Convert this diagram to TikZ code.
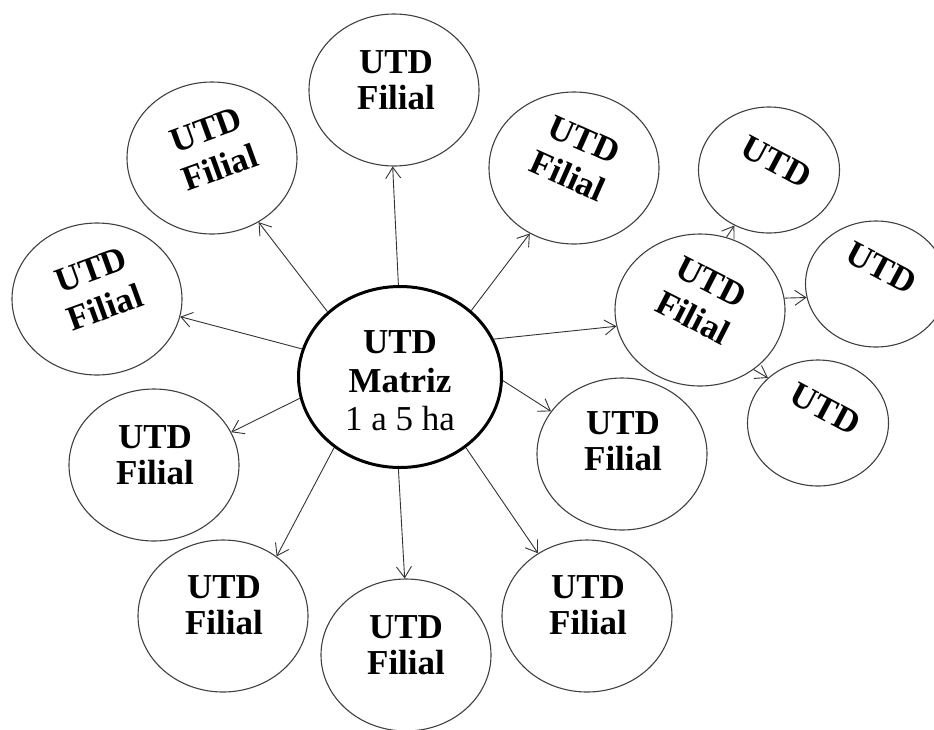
\documentclass[tikz,border=0pt]{standalone}
\usepackage{fontspec}
\setmainfont{Liberation Serif}
\usetikzlibrary{shapes}
\usetikzlibrary{arrows.meta}

\begin{document}
\begin{tikzpicture}[
    x=1pt, y=-1pt,
    font=\fontsize{35}{36}\selectfont\bfseries
]
\tikzset{
    filial/.style = {ellipse, draw=black!75, line width=1.1pt, minimum width=170pt, minimum height=152pt, inner sep=0pt},
    utd/.style = {ellipse, draw=black!75, line width=1.1pt, minimum width=141pt, minimum height=126pt, inner sep=0pt},
    matriz/.style = {ellipse, draw=black, line width=3pt, minimum width=203pt, minimum height=181pt, inner sep=0pt},
    txt/.style = {align=center, inner sep=0pt},
    txtr/.style = {align=center, inner sep=0pt, font=\fontsize{35}{40}\selectfont\bfseries},
    edger/.style = {-{Straight Barb[length=11pt,width=15pt]}, line width=0.9pt, black!80}
}
\useasboundingbox (0,0) rectangle (934,729);
% matriz
\node[matriz] at (400,377) (m) {};
\node[txt, font=\fontsize{35}{38.5}\selectfont\bfseries] at (400,381) (mt) {UTD\\Matriz\\{\mdseries 1 a 5 ha}};
% filiais
\node[filial] at (394,90) (f1) {};
\node[filial] at (212,158) (f2) {};
\node[filial] at (97,299) (f3) {};
\node[filial] at (154,465) (f4) {};
\node[filial] at (223,616) (f5) {};
\node[filial] at (406,655) (f6) {};
\node[filial] at (587,616) (f7) {};
\node[filial] at (622,454) (f8) {};
\node[filial] at (700,310) (f9) {};
\node[filial] at (574,168) (f10) {};
\node[txt] at (396,80) (t1) {UTD\\Filial};
\node[txtr, rotate=20] at (213,149) (t2) {UTD\\Filial};
\node[txtr, rotate=20] at (98,289) (t3) {UTD\\Filial};
\node[txt] at (155,455) (t4) {UTD\\Filial};
\node[txt] at (224,605) (t5) {UTD\\Filial};
\node[txt] at (406,645) (t6) {UTD\\Filial};
\node[txt] at (588,605) (t7) {UTD\\Filial};
\node[txt] at (623,441) (t8) {UTD\\Filial};
\node[txtr, rotate=-27] at (702,300) (t9) {UTD\\Filial};
\node[txtr, rotate=-24] at (576,158) (t10) {UTD\\Filial};
% utd
\node[utd] at (769,170) (u1) {};
\node[utd] at (876,284) (u2) {};
\node[utd] at (818,423) (u3) {};
\node[txt, rotate=-28] at (776,162) (s1) {UTD};
\node[txt, rotate=-28] at (881,268) (s2) {UTD};
\node[txt, rotate=-28] at (825,409) (s3) {UTD};
% edges
\draw[edger] (m.91) -- (f1.-91);
\draw[edger] (m.138) -- (f2.-54);
\draw[edger] (m.164) -- (f3.-12);
\draw[edger] (m.-168) -- (f4.23);
\draw[edger] (m.-133) -- (f5.48);
\draw[edger] (m.-91) -- (f6.91);
\draw[edger] (m.-47) -- (f7.128);
\draw[edger] (m.-2) -- (f8.149);
\draw[edger] (m.22) -- (f9.-169);
\draw[edger] (m.43) -- (f10.-124);
\draw[edger] (f9.70) -- (u1.-122);
\draw[edger] (f9.8) -- (u2.191);
\draw[edger] (f9.-48) -- (u3.138);
\end{tikzpicture}
\end{document}
